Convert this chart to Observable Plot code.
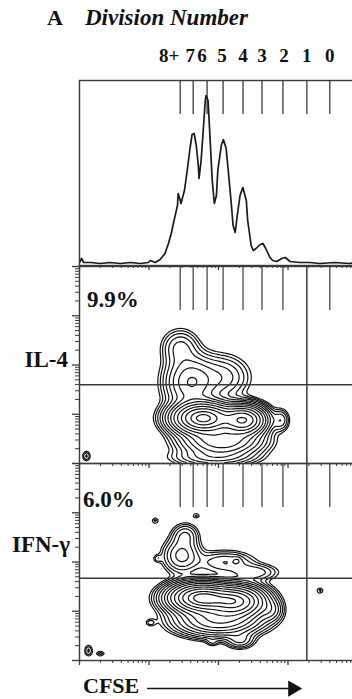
<!DOCTYPE html>
<html>
<head>
<meta charset="utf-8">
<script src="https://cdn.jsdelivr.net/npm/d3@7"></script>
<script src="https://cdn.jsdelivr.net/npm/@observablehq/plot@0.6"></script>
<style>
html, body { margin: 0; padding: 0; background: #fff; width: 352px; height: 699px; overflow: hidden; }
#wrap { position: relative; width: 352px; height: 699px; overflow: hidden; font-family: "Liberation Serif", "Times New Roman", serif; color: #111; }
#wrap svg { position: absolute; left: 0; top: 0; background: transparent !important; overflow: visible !important; max-width: none !important; }
.lbl { position: absolute; font-weight: bold; white-space: nowrap; line-height: 1; }
</style>
</head>
<body>
<div id="wrap">
  <div class="lbl" style="left:47px;top:7px;font-size:22px;">A</div>
  <div class="lbl" style="left:85px;top:6px;font-size:23px;font-style:italic;">Division Number</div>
  <div class="lbl" style="right:284px;top:348px;font-size:23px;">IL-4</div>
  <div class="lbl" style="right:282px;top:533px;font-size:23px;">IFN-γ</div>
  <div class="lbl" style="left:87px;top:288px;font-size:23px;">9.9%</div>
  <div class="lbl" style="left:83px;top:488px;font-size:23px;">6.0%</div>
  <div class="lbl" style="left:83px;top:675px;font-size:22px;">CFSE</div>
</div>
<script>
// ---------- data ----------
// division markers (CFSE, log decades)
const divisionLabels = ["8+", "7", "6", "5", "4", "3", "2", "1", "0"];
const divisionLog = [1.449, 1.636, 1.836, 2.066, 2.353, 2.626, 2.927, 3.271, 3.601];

// CFSE histogram (log decades, relative cell count)
const cfseLog = [0.00, 0.03, 0.06, 0.16, 0.30, 0.44, 0.59, 0.73, 0.88, 0.99, 1.02, 1.09, 1.16, 1.23, 1.28, 1.32, 1.36, 1.41, 1.42, 1.45, 1.46, 1.51, 1.55, 1.59, 1.62, 1.65, 1.68, 1.71, 1.72, 1.75, 1.78, 1.81, 1.82, 1.85, 1.88, 1.91, 1.94, 1.97, 1.99, 2.04, 2.07, 2.11, 2.14, 2.18, 2.21, 2.24, 2.27, 2.31, 2.35, 2.40, 2.42, 2.47, 2.50, 2.54, 2.60, 2.64, 2.68, 2.74, 2.78, 2.84, 2.91, 2.96, 3.03, 3.17, 3.31, 3.46, 3.67, 3.89, 3.99];
const cellCount = [3, 7, 3, 3, 2, 3, 2, 3, 2, 3, 5, 3, 6, 12, 22, 32, 45, 60, 72, 65, 62, 75, 95, 117, 131, 132, 120, 100, 87, 105, 135, 165, 170, 165, 125, 85, 62, 70, 95, 120, 126, 117, 95, 65, 40, 33, 50, 70, 78, 65, 45, 20, 15, 17, 21, 22, 17, 8, 5, 4, 7, 8, 4, 3, 3, 2, 3, 2, 3];

// population components of the contour plots (log decades: center, spread, weight)
const il4Blobs = [
  {cx: 1.78, cy: 0.92, sx: 0.23, sy: 0.17, w: 1.0},
  {cx: 2.36, cy: 0.88, sx: 0.17, sy: 0.16, w: 0.75},
  {cx: 2.05, cy: 0.45, sx: 0.30, sy: 0.16, w: 0.25},
  {cx: 2.90, cy: 0.88, sx: 0.07, sy: 0.13, w: 0.035},
  {cx: 1.60, cy: 1.65, sx: 0.20, sy: 0.30, w: 0.13},
  {cx: 1.45, cy: 2.35, sx: 0.15, sy: 0.21, w: 0.045},
  {cx: 2.05, cy: 1.75, sx: 0.22, sy: 0.25, w: 0.05},
  {cx: 1.95, cy: 0.12, sx: 0.33, sy: 0.10, w: 0.06},
  {cx: 0.10, cy: 0.15, sx: 0.04, sy: 0.07, w: 0.02}
];
const ifnBlobs = [
  {cx: 1.75, cy: 1.27, sx: 0.24, sy: 0.16, w: 1.0},
  {cx: 2.25, cy: 1.20, sx: 0.22, sy: 0.17, w: 0.8},
  {cx: 2.00, cy: 0.82, sx: 0.32, sy: 0.17, w: 0.28},
  {cx: 2.75, cy: 1.02, sx: 0.10, sy: 0.13, w: 0.05},
  {cx: 1.52, cy: 2.54, sx: 0.11, sy: 0.14, w: 0.04},
  {cx: 1.47, cy: 2.13, sx: 0.15, sy: 0.2, w: 0.07},
  {cx: 2.09, cy: 1.99, sx: 0.25, sy: 0.14, w: 0.04},
  {cx: 2.52, cy: 1.79, sx: 0.20, sy: 0.10, w: 0.035},
  {cx: 2.31, cy: 0.41, sx: 0.12, sy: 0.10, w: 0.04},
  {cx: 1.09, cy: 2.84, sx: 0.04, sy: 0.05, w: 0.014},
  {cx: 1.68, cy: 2.94, sx: 0.04, sy: 0.04, w: 0.014},
  {cx: 1.12, cy: 2.07, sx: 0.04, sy: 0.05, w: 0.014},
  {cx: 2.27, cy: 2.03, sx: 0.04, sy: 0.05, w: 0.014},
  {cx: 1.02, cy: 0.77, sx: 0.05, sy: 0.05, w: 0.014},
  {cx: 1.91, cy: 0.37, sx: 0.05, sy: 0.05, w: 0.014},
  {cx: 3.46, cy: 1.42, sx: 0.04, sy: 0.05, w: 0.014},
  {cx: 0.13, cy: 0.20, sx: 0.04, sy: 0.08, w: 0.02},
  {cx: 0.30, cy: 0.14, sx: 0.05, sy: 0.04, w: 0.015}
];
const contourLevels = [0.008, 0.012, 0.018, 0.027, 0.04, 0.06, 0.09, 0.13, 0.19, 0.28, 0.4, 0.55, 0.75, 0.92];

// quadrant gates (log decades)
const gateX = 3.271;
const il4GateY = 1.6;
const ifnGateY = 1.67;

// ---------- drawing ----------
const W = 370, H = 699, ML = 79, MR = 13;
const pxPerDecade = (W - ML - MR) / 4;
const ink = "#1a1a1a";
const frameInk = "#3a3a3a";
const majorTicks = [0, 1, 2, 3, 4];
const minorTicks = [];
for (let d = 0; d < 4; d++) for (let k = 2; k <= 9; k++) minorTicks.push(d + Math.log10(k));
// small horizontal nudges (px) so the crowded labels do not collide
const labelNudge = [-11, -3, -5, -1, 0, 0, 1, 0, 0];
const divs = divisionLog.map((x, i) => ({x, label: divisionLabels[i], lx: x + labelNudge[i] / pxPerDecade}));
const hist = cfseLog.map((x, i) => ({x, y: cellCount[i]}));
const svgStyle = "background:transparent;overflow:visible;max-width:none;";
const blank = () => "";

function density(blobs) {
  return (x, y) => {
    let s = 0;
    for (const b of blobs) {
      const dx = (x - b.cx) / b.sx, dy = (y - b.cy) / b.sy;
      s += b.w * Math.exp(-0.5 * (dx * dx + dy * dy));
    }
    return s;
  };
}

function xAxes() {
  return [
    Plot.axisX({ticks: minorTicks, tickSize: 3, tickFormat: blank, label: null, stroke: frameInk, strokeWidth: 1}),
    Plot.axisX({ticks: majorTicks, tickSize: 5, tickFormat: blank, label: null, stroke: frameInk, strokeWidth: 1.3})
  ];
}
function yAxes() {
  return [
    Plot.axisY({ticks: minorTicks, tickSize: 4, tickFormat: blank, label: null, stroke: frameInk, strokeWidth: 1}),
    Plot.axisY({ticks: majorTicks, tickSize: 7, tickFormat: blank, label: null, stroke: frameInk, strokeWidth: 1.3})
  ];
}

// Panel 1: CFSE histogram
const p1 = Plot.plot({
  width: W, height: H, marginLeft: ML, marginRight: MR, marginTop: 80, marginBottom: H - 265,
  style: svgStyle,
  x: {type: "linear", domain: [0, 4], axis: null},
  y: {type: "linear", domain: [0, 185], axis: null},
  marks: [
    ...xAxes(),
    Plot.ruleX(divs, {x: "x", y1: 151, y2: 185, stroke: "#555", strokeWidth: 1.5}),
    Plot.text(divs, {x: "lx", y: 209.5, text: "label", fontFamily: "Liberation Serif", fontWeight: "bold", fontSize: 19, fill: "#111"}),
    Plot.line(hist, {x: "x", y: "y", stroke: ink, strokeWidth: 1.7}),
    Plot.frame({stroke: frameInk, strokeWidth: 1.4})
  ]
});

function contourPanel(blobs, gateY, top, bottom) {
  const hpx = bottom - top;
  const tickLen = 44 / (hpx / 4);
  return Plot.plot({
    width: W, height: H, marginLeft: ML, marginRight: MR, marginTop: top, marginBottom: H - bottom,
    style: svgStyle,
    x: {type: "linear", domain: [0, 4], axis: null},
    y: {type: "linear", domain: [0, 4], axis: null},
    marks: [
      Plot.contour({value: density(blobs), x1: 0, x2: 4, y1: 0, y2: 4, thresholds: contourLevels, fill: "none", stroke: "#111", strokeWidth: 1.2}),
      ...xAxes(),
      ...yAxes(),
      Plot.ruleX(divs.filter((d) => d.label !== "1"), {x: "x", y1: 4 - tickLen, y2: 4, stroke: "#555", strokeWidth: 1.4}),
      Plot.ruleX([gateX], {stroke: frameInk, strokeWidth: 1.5}),
      Plot.ruleY([gateY], {stroke: frameInk, strokeWidth: 1.5}),
      Plot.frame({stroke: frameInk, strokeWidth: 1.4})
    ]
  });
}

const p2 = contourPanel(il4Blobs, il4GateY, 266, 463);
const p3 = contourPanel(ifnBlobs, ifnGateY, 463, 660);

// CFSE arrow under the bottom panel
const p4 = Plot.plot({
  width: W, height: H, marginLeft: ML, marginRight: MR, marginTop: 463, marginBottom: H - 660,
  style: svgStyle,
  x: {type: "linear", domain: [0, 4], axis: null},
  y: {type: "linear", domain: [0, 4], axis: null},
  marks: [
    Plot.ruleY([-0.57], {x1: 0.98, x2: 3.02, stroke: "#111", strokeWidth: 1.6}),
    Plot.dot([3.07], {x: (d) => d, y: -0.57, symbol: "triangle", rotate: 90, r: 6, fill: "#111", stroke: "none"})
  ]
});

const wrap = document.getElementById("wrap");
for (const p of [p1, p2, p3, p4]) wrap.appendChild(p);
</script>
</body>
</html>
